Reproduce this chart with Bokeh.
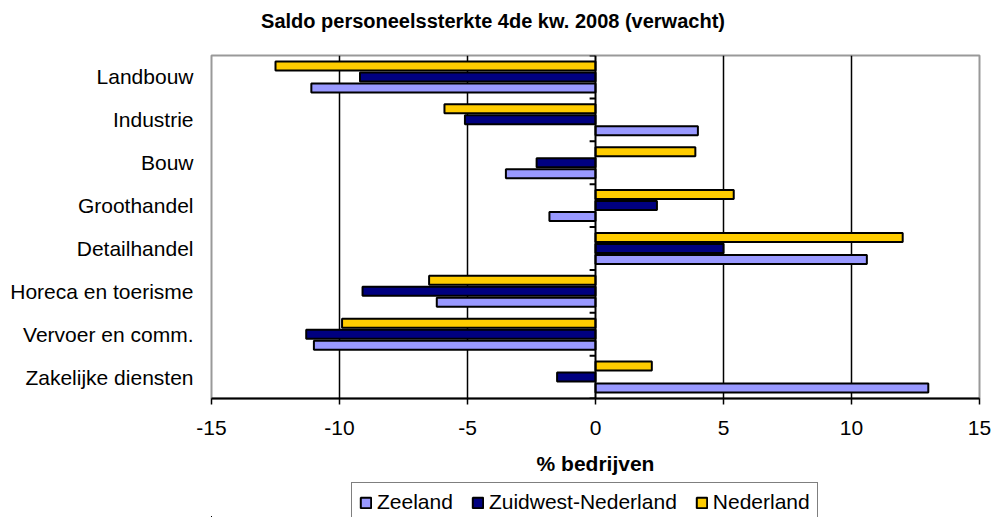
from bokeh.plotting import figure
from bokeh.layouts import column
from bokeh.models import (ColumnDataSource, Range1d, FixedTicker, Legend, LegendItem,
                          Span, LinearAxis, Label)
from bokeh.transform import dodge
from bokeh.embed import file_html
from bokeh.resources import INLINE

title_text = "Saldo personeelssterkte 4de kw. 2008 (verwacht)"
categories = ["Landbouw", "Industrie", "Bouw", "Groothandel", "Detailhandel",
              "Horeca en toerisme", "Vervoer en comm.", "Zakelijke diensten"]
zeeland = [-11.1, 4.0, -3.5, -1.8, 10.6, -6.2, -11.0, 13.0]
zuidwest = [-9.2, -5.1, -2.3, 2.4, 5.0, -9.1, -11.3, -1.5]
nederland = [-12.5, -5.9, 3.9, 5.4, 12.0, -6.5, -9.9, 2.2]
series_names = ["Zeeland", "Zuidwest-Nederland", "Nederland"]
series_fields = ["zeeland", "zuidwest", "nederland"]
series_colors = ["#9999FF", "#000080", "#FFCC00"]
x_ticks = [-15, -10, -5, 0, 5, 10, 15]
grid_ticks = [-10, -5, 5, 10]

FONT = "Liberation Sans"
n = len(categories)
centers = [i + 0.5 for i in range(n)]
bounds = [float(i) for i in range(n + 1)]

src = ColumnDataSource(dict(y=centers, zeeland=zeeland, zuidwest=zuidwest,
                            nederland=nederland))


def strip(height):
    f = figure(width=992, height=height, output_backend="svg", toolbar_location=None,
               x_range=Range1d(1000, 1001), y_range=Range1d(1000, 1001),
               min_border_left=0, min_border_right=0, min_border_top=0,
               min_border_bottom=0, x_axis_type=None, y_axis_type=None)
    f.outline_line_color = None
    f.xgrid.visible = False
    f.ygrid.visible = False
    f.background_fill_color = "white"
    f.border_fill_color = "white"
    return f


# title strip
tf = strip(40)
tf.add_layout(Label(x=281.5, y=20, x_units="screen", y_units="screen",
                    text=title_text, text_align="center", text_baseline="middle",
                    text_font=FONT, text_font_size="20px", text_font_style="bold",
                    text_color="black"))

# main chart
p = figure(width=992, height=442, output_backend="svg", toolbar_location=None,
           x_range=Range1d(-15, 15), y_range=Range1d(n, 0),
           min_border_left=211, min_border_right=13, min_border_top=15,
           min_border_bottom=84, x_axis_type=None, y_axis_type=None)
p.outline_line_color = "#999999"
p.outline_line_width = 2
p.background_fill_color = "white"
p.border_fill_color = "white"

sp = 0.257
h = 0.21
bar_kw = dict(left=0, height=h, source=src, line_color="black", line_width=2)
r_ned = p.hbar(y=dodge("y", -sp, range=p.y_range), right="nederland",
               fill_color=series_colors[2], **bar_kw)
r_zw = p.hbar(y="y", right="zuidwest", fill_color=series_colors[1], **bar_kw)
r_zl = p.hbar(y=dodge("y", sp, range=p.y_range), right="zeeland",
              fill_color=series_colors[0], **bar_kw)

# x axis
xa = LinearAxis(ticker=FixedTicker(ticks=x_ticks), axis_label="% bedrijven",
                major_label_overrides={t: str(t) for t in x_ticks})
xa.axis_line_color = "black"
xa.axis_line_width = 2
xa.major_tick_line_color = "black"
xa.major_tick_line_width = 1.5
xa.major_tick_out = 6
xa.major_tick_in = 0
xa.minor_tick_line_color = None
xa.major_label_text_font = FONT
xa.major_label_text_font_size = "21px"
xa.major_label_text_color = "black"
xa.major_label_standoff = 16
xa.axis_label_text_font = FONT
xa.axis_label_text_font_size = "21px"
xa.axis_label_text_font_style = "bold"
xa.axis_label_text_color = "black"
xa.axis_label_standoff = 14
p.add_layout(xa, "below")

# category axis
ya = LinearAxis(ticker=FixedTicker(ticks=centers),
                major_label_overrides={c: lab for c, lab in zip(centers, categories)})
ya.axis_line_color = None
ya.major_tick_line_color = None
ya.major_tick_out = 0
ya.major_tick_in = 0
ya.minor_tick_line_color = None
ya.major_label_text_font = FONT
ya.major_label_text_font_size = "21px"
ya.major_label_text_color = "black"
ya.major_label_standoff = 18
p.add_layout(ya, "left")

# grid
p.add_layout(Span(location=0, dimension="height", line_color="black", line_width=2))
for g in grid_ticks:
    p.add_layout(Span(location=g, dimension="height", line_color="black",
                      line_width=1.5, level="underlay"))

# category boundary ticks on the zero axis
p.segment(x0=[0] * len(bounds), x1=[-0.23] * len(bounds), y0=bounds, y1=bounds,
          line_color="black", line_width=2)

# legend strip (its renderers lie outside its view; only the legend shows)
lf = strip(35)
items = []
for name, fld, col in zip(series_names, series_fields, series_colors):
    r = lf.hbar(y="y", left=0, right=fld, height=h, source=src, fill_color=col,
                line_color="black", line_width=2)
    items.append(LegendItem(label=name, renderers=[r]))

legend = Legend(items=items, orientation="horizontal", location=(140, -5))
legend.label_text_font = FONT
legend.label_text_font_size = "21px"
legend.label_text_color = "black"
legend.glyph_width = 13
legend.glyph_height = 13
legend.label_standoff = 5
legend.spacing = 18
legend.padding = 7
legend.margin = 0
legend.border_line_color = "black"
legend.border_line_width = 1.5
legend.label_height = 21
legend.background_fill_alpha = 1
lf.add_layout(legend)

layout = column(tf, p, lf, spacing=0)
open("out.html", "w").write(file_html(layout, INLINE))
